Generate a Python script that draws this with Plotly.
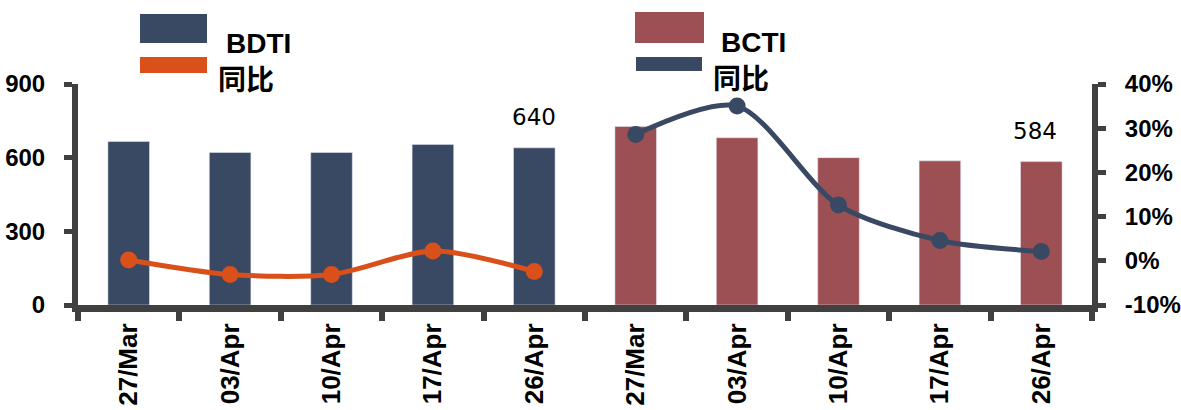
import plotly.graph_objects as go

# ---- data ----
dates = ["27/Mar", "03/Apr", "10/Apr", "17/Apr", "26/Apr"]
bdti = [666, 621, 621, 654, 640]
bdti_yoy = [0.2, -3.1, -3.1, 2.2, -2.4]
bcti = [727, 681, 600, 587, 584]
bcti_yoy = [28.6, 35.0, 12.6, 4.6, 2.1]
left_ticks = [0, 300, 600, 900]
right_ticks = [-10, 0, 10, 20, 30, 40]
right_labels = ["-10%", "0%", "10%", "20%", "30%", "40%"]

x_bdti = ["BDTI " + d for d in dates]
x_bcti = ["BCTI " + d for d in dates]
all_keys = x_bdti + x_bcti
all_labels = dates + dates

NAVY = "#3A4963"
RED = "#9C5053"
ORANGE = "#D9501B"
AXIS = "#404040"

W, H = 1181, 410
L, R, T, B = 78, 1092, 84, 305

fig = go.Figure()
fig.add_trace(go.Bar(x=x_bdti, y=bdti, marker_color=NAVY, width=0.41, name="BDTI"))
fig.add_trace(go.Bar(x=x_bcti, y=bcti, marker_color=RED, width=0.41, name="BCTI"))
fig.add_trace(go.Scatter(x=x_bdti, y=bdti_yoy, yaxis="y2", mode="lines+markers",
                         line=dict(color=ORANGE, width=5, shape="spline", smoothing=0.8),
                         marker=dict(color=ORANGE, size=17), name="同比"))
fig.add_trace(go.Scatter(x=x_bcti, y=bcti_yoy, yaxis="y2", mode="lines+markers",
                         line=dict(color=NAVY, width=5, shape="spline", smoothing=0.8),
                         marker=dict(color=NAVY, size=17), name="同比"))


def px(xp):
    return (xp - L) / (R - L)


def py(yp):
    return (B - yp) / (B - T)


shapes = [
    dict(type="rect", xref="paper", yref="paper", x0=px(140), x1=px(207), y0=py(43), y1=py(14),
         fillcolor=NAVY, line_width=0),
    dict(type="rect", xref="paper", yref="paper", x0=px(140), x1=px(207), y0=py(73), y1=py(57),
         fillcolor=ORANGE, line_width=0),
    dict(type="rect", xref="paper", yref="paper", x0=px(635), x1=px(704), y0=py(43), y1=py(12),
         fillcolor=RED, line_width=0),
    dict(type="rect", xref="paper", yref="paper", x0=px(636), x1=px(702), y0=py(71), y1=py(57),
         fillcolor=NAVY, line_width=0),
]

leg_font = dict(family="Liberation Sans, Arial", size=28, color="black")
cjk_font = dict(family="Noto Sans CJK SC", size=28, color="black")
lab_font = dict(family="DejaVu Sans", size=23, color="black")
annotations = [
    dict(text="<b>BDTI</b>", xref="paper", yref="paper", x=px(224), y=py(43), xanchor="left",
         yanchor="middle", showarrow=False, font=leg_font),
    dict(text="<b>同比</b>", xref="paper", yref="paper", x=px(216), y=py(78), xanchor="left",
         yanchor="middle", showarrow=False, font=cjk_font),
    dict(text="<b>BCTI</b>", xref="paper", yref="paper", x=px(719), y=py(42), xanchor="left",
         yanchor="middle", showarrow=False, font=leg_font),
    dict(text="<b>同比</b>", xref="paper", yref="paper", x=px(711), y=py(77), xanchor="left",
         yanchor="middle", showarrow=False, font=cjk_font),
    dict(text=str(bdti[-1]), x=x_bdti[-1], y=bdti[-1], xref="x", yref="y", yanchor="bottom",
         yshift=16, xshift=0, showarrow=False, font=lab_font),
    dict(text=str(bcti[-1]), x=x_bcti[-1], y=bcti[-1], xref="x", yref="y", yanchor="bottom",
         yshift=16, xshift=-6, showarrow=False, font=lab_font),
]

tick_font = dict(family="Liberation Sans, Arial", size=24, color="black", weight="bold")
xtick_font = dict(family="Liberation Sans, Arial", size=26, color="black", weight="bold")

fig.update_layout(
    width=W, height=H,
    margin=dict(l=L, r=W - R, t=T, b=H - B, pad=0, autoexpand=False),
    paper_bgcolor="white", plot_bgcolor="white",
    barmode="overlay",
    showlegend=False,
    shapes=shapes,
    annotations=annotations,
    xaxis=dict(
        type="category", categoryorder="array", categoryarray=all_keys,
        range=[-0.5, len(all_keys) - 0.5],
        tickvals=all_keys, ticktext=all_labels, tickangle=-90, automargin=False,
        tickson="boundaries", ticks="outside", ticklen=9, tickwidth=6, tickcolor=AXIS,
        showline=True, linecolor=AXIS, linewidth=7, showgrid=False, zeroline=False,
        tickfont=xtick_font, ticklabelstandoff=1,
    ),
    yaxis=dict(
        range=[0, 900], tickvals=left_ticks, ticks="outside", ticklen=8, tickwidth=5,
        tickcolor=AXIS, showline=True, linecolor=AXIS, linewidth=6, showgrid=False,
        zeroline=False, tickfont=tick_font, ticklabelstandoff=14, automargin=False,
    ),
    yaxis2=dict(
        range=[-10, 40], tickvals=right_ticks, ticktext=right_labels, overlaying="y",
        side="right", ticks="outside", ticklen=8, tickwidth=5, tickcolor=AXIS,
        showline=True, linecolor=AXIS, linewidth=6, showgrid=False, zeroline=False,
        tickfont=tick_font, ticklabelstandoff=14, automargin=False,
    ),
)

fig.write_html("out.html")
